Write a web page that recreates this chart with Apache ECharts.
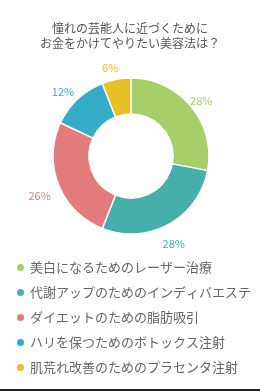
<!DOCTYPE html>
<html>
<head>
<meta charset="utf-8">
<script src="https://cdn.jsdelivr.net/npm/echarts@6/dist/echarts.min.js"></script>
<style>
html, body { margin: 0; padding: 0; background: #fff; }
#main { width: 260px; height: 389px; border-bottom: 2px solid #222; }
</style>
</head>
<body>
<div id="main"></div>
<script>
// データ
var titleLines = ['憧れの芸能人に近づくために', 'お金をかけてやりたい美容法は？'];
var categories = [
    '美白になるためのレーザー治療',
    '代謝アップのためのインディバエステ',
    'ダイエットのための脂肪吸引',
    'ハリを保つためのボトックス注射',
    '肌荒れ改善のためのプラセンタ注射'
];
var values = [28, 28, 26, 12, 6];
var colors = ['#a6cf6a', '#46aeab', '#e27c7c', '#34acca', '#e6c024'];

var myChart = echarts.init(document.getElementById('main'));

var option = {
    color: colors,
    title: {
        text: titleLines.join('\n'),
        left: 'center',
        top: 16,
        textStyle: {
            fontFamily: 'Noto Sans CJK JP',
            fontSize: 12,
            fontWeight: 'normal',
            color: '#555',
            lineHeight: 15
        }
    },
    legend: {
        orient: 'vertical',
        left: 10,
        top: 256,
        icon: 'circle',
        itemWidth: 9,
        itemHeight: 9,
        itemGap: 12,
        textStyle: {
            fontFamily: 'Noto Sans CJK JP',
            fontSize: 13,
            color: '#666'
        },
        data: categories
    },
    series: [
        {
            // ドーナツ本体
            type: 'pie',
            radius: [42, 78],
            center: [131, 156],
            startAngle: 90,
            itemStyle: {
                borderColor: '#fff',
                borderWidth: 1.5
            },
            label: { show: false },
            labelLine: { show: false },
            emphasis: { disabled: true },
            data: categories.map(function (name, i) {
                return { name: name, value: values[i] };
            })
        },
        {
            // ラベル用（透明）
            type: 'pie',
            radius: [80, 104],
            center: [131, 156],
            startAngle: 90,
            silent: true,
            itemStyle: { color: 'transparent', borderWidth: 0 },
            label: {
                show: true,
                position: 'inside',
                formatter: '{c}%',
                fontFamily: 'Noto Sans CJK JP',
                fontSize: 11,
                offset: [-3, 5]
            },
            labelLine: { show: false },
            emphasis: { disabled: true },
            data: categories.map(function (name, i) {
                return {
                    name: name,
                    value: values[i],
                    label: { color: colors[i] }
                };
            })
        }
    ]
};

myChart.setOption(option);
</script>
</body>
</html>
